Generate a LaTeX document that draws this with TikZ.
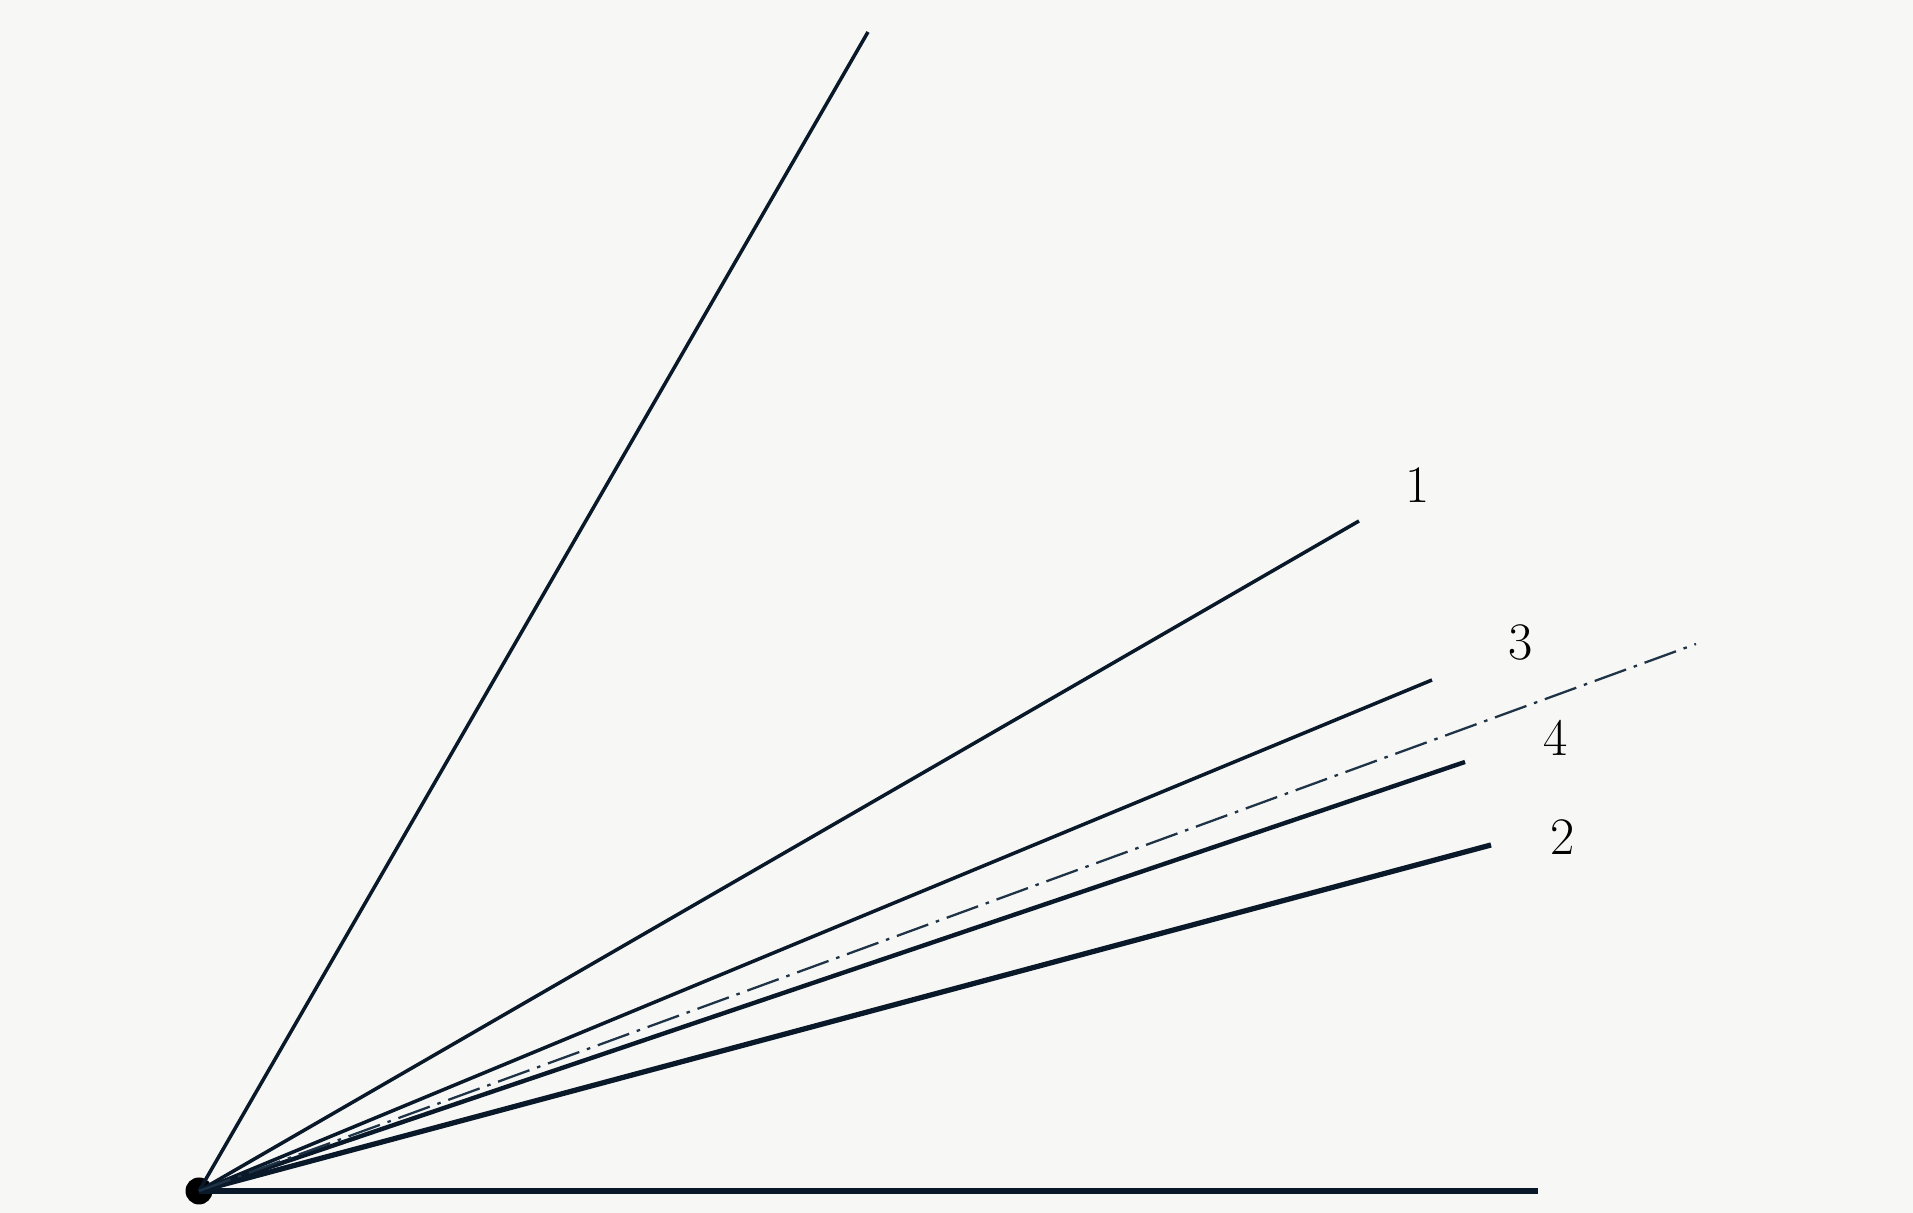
\documentclass[tikz,border=0pt]{standalone}
\usepackage{tikz}
\usetikzlibrary{positioning}
\tikzset{circ/.style = {fill, circle, inner sep = 0, minimum size = 0.27cm}}
\tikzset{ray/.style = {line width = 1pt, mline}}
\tikzset{numlabel/.style = {inner sep = 0, font = \fontsize{15}{18}\selectfont}}
\definecolor{mline}{rgb}{0.04, 0.10, 0.16}
\definecolor{mdash}{rgb}{0.12, 0.20, 0.28}
\definecolor{mback}{rgb}{0.969, 0.969, 0.961}

\begin{document}
\begin{tikzpicture}
      \useasboundingbox (0, 0) rectangle (19.13, 12.13);
      \fill [mback] (0, 0) rectangle (19.13, 12.13);

      \node [circ, black] (o) at (1.99, 0.22) {};

      \coordinate (top) at (8.68, 11.81);
      \coordinate (end1) at (13.59, 6.92);
      \coordinate (end3) at (14.32, 5.33);
      \coordinate (endd) at (16.96, 5.69);
      \coordinate (end4) at (14.65, 4.51);
      \coordinate (end2) at (14.91, 3.68);
      \coordinate (base) at (15.38, 0.22);

      \draw [ray] (o.center) -- (top);
      \draw [ray] (o.center) -- (end1);
      \draw [ray] (o.center) -- (end3);
      \draw [ray, line width = 1.25pt] (o.center) -- (end4);
      \draw [ray, line width = 1.5pt] (o.center) -- (end2);
      \draw [ray, line width = 1.5pt] (o.center) -- (base);
      \draw [mdash, line width = 0.65pt, dash pattern = on 9.5pt off 2.3pt on 1pt off 2.3pt] (o.center) -- (endd);

      \node [numlabel] (l1) at (14.18, 7.28) {1};
      \node [numlabel] (l3) at (15.21, 5.70) {3};
      \node [numlabel] (l4) at (15.56, 4.75) {4};
      \node [numlabel] (l2) at (15.63, 3.76) {2};
    \end{tikzpicture}
\end{document}
